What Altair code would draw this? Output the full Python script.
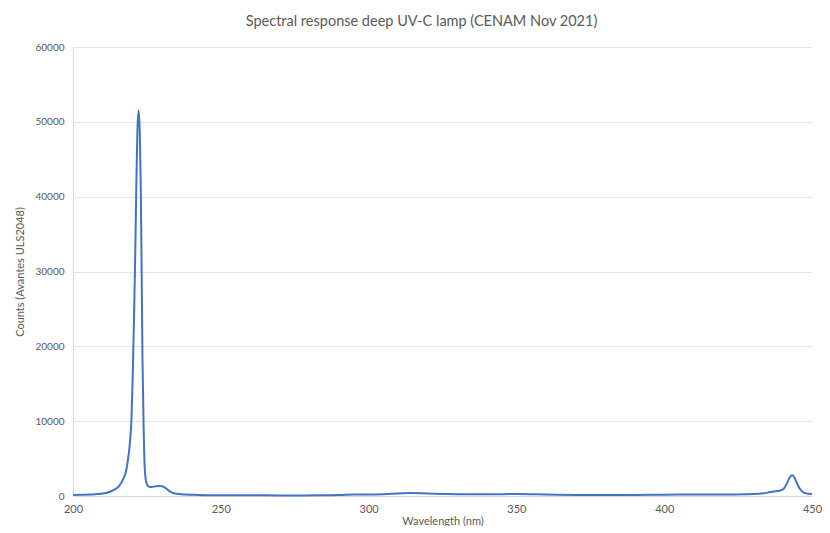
import altair as alt
import pandas as pd

wavelength = [200, 203, 206, 208, 210, 212, 214, 215.5, 217, 218, 218.5, 219.3, 219.8, 220.2, 220.6, 221.0,
              221.4, 221.8, 222.2, 222.6, 222.9, 223.2, 223.5, 223.9, 224.3, 224.8, 225.5, 226.5, 228, 229.5,
              230.5, 231.5, 233, 235, 238, 242, 250, 260, 270, 278, 285, 290, 295, 300, 305, 310, 314, 318,
              322, 330, 340, 350, 360, 370, 380, 390, 400, 410, 420, 428, 432, 435, 437, 439, 440.5, 441.5,
              442.5, 443.3, 444, 445, 446, 447, 448, 449, 450]
counts = [150, 170, 200, 260, 330, 500, 850, 1300, 2300, 3400, 4600, 7300, 10500, 16000, 23000, 31000,
          41000, 49000, 51500, 48500, 42000, 31000, 18500, 9000, 3500, 1800, 1300, 1200, 1300, 1350,
          1250, 1000, 550, 300, 200, 150, 110, 100, 80, 70, 100, 120, 200, 200, 230, 330, 400, 380,
          300, 230, 220, 260, 200, 150, 130, 150, 180, 200, 200, 230, 300, 450, 600, 700, 1000, 1700,
          2500, 2800, 2500, 1600, 900, 500, 350, 300, 280]

x_ticks = [200, 250, 300, 350, 400, 450]
y_ticks = [0, 10000, 20000, 30000, 40000, 50000, 60000]

df = pd.DataFrame({"wl": wavelength, "counts": counts})

FONT = "Lato"
TXT = "#595959"

chart = alt.Chart(df).mark_line(color="#4472C4", strokeWidth=2, interpolate="monotone").encode(
    x=alt.X("wl:Q", scale=alt.Scale(domain=[200, 450], nice=False, zero=False),
            axis=alt.Axis(title="Wavelength (nm)", values=x_ticks, grid=False, ticks=False, labelFlush=False,
                          domain=True, domainColor="#d9d9d9", labelPadding=7, labelFontSize=11,
                          titleFontSize=11, titlePadding=1, labelFont=FONT, titleFont=FONT,
                          labelColor=TXT, titleColor=TXT, titleFontWeight="normal")),
    y=alt.Y("counts:Q", scale=alt.Scale(domain=[0, 60000], nice=False),
            axis=alt.Axis(title="Counts (Avantes ULS2048)", values=y_ticks, grid=True, gridColor="#e4e4e4",
                          ticks=False, domain=True, domainColor="#d9d9d9", labelPadding=9, labelFontSize=10,
                          titleFontSize=11, titlePadding=9, labelFont=FONT, titleFont=FONT,
                          labelColor=TXT, titleColor=TXT, titleFontWeight="normal", format="d")),
).properties(
    width=739, height=449,
    title=alt.TitleParams("Spectral response deep UV-C lamp (CENAM Nov 2021)", font=FONT, fontSize=14.5,
                          fontWeight="normal", color=TXT, offset=13, dx=-21),
    autosize=alt.AutoSizeParams(type="none"),
    padding={"left": 65, "top": 39, "right": 10, "bottom": 30},
).configure_view(stroke=None)

chart.save("out.html", embed_options={"renderer": "svg", "actions": False})
